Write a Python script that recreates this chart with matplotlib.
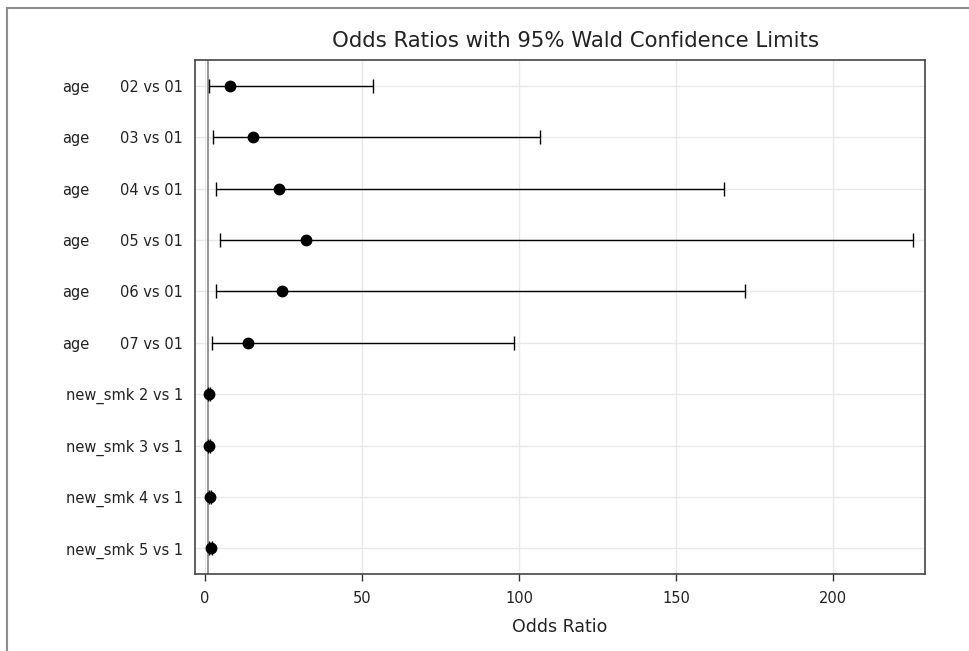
import numpy as np
import matplotlib.pyplot as plt
from matplotlib.patches import Rectangle
import matplotlib.transforms as mtransforms

plt.rcParams['font.family'] = ['DejaVu Sans']

# odds ratio estimates with 95% Wald limits
effects = ["age", "age", "age", "age", "age", "age", "", "", "", ""]
levels = ["02 vs 01", "03 vs 01", "04 vs 01", "05 vs 01", "06 vs 01", "07 vs 01",
          "new_smk 2 vs 1", "new_smk 3 vs 1", "new_smk 4 vs 1", "new_smk 5 vs 1"]
odds = [8.0, 15.4, 23.6, 32.2, 24.6, 13.8, 1.3, 1.3, 1.6, 1.8]
lower = [1.3, 2.6, 3.5, 4.9, 3.5, 2.1, 1.0, 1.0, 1.3, 1.4]
upper = [53.6, 106.8, 165.3, 225.6, 172.1, 98.4, 1.7, 1.7, 2.0, 2.2]

W, H = 969, 651
fig = plt.figure(figsize=(W / 100, H / 100), dpi=100)
ax = fig.add_axes([195 / W, 1 - 574 / H, (925 - 195) / W, (574 - 60) / H])

# outer border of the graph
fig.patches.append(Rectangle((7 / W, -0.1), 1.2, 1 - 8 / H + 0.1, transform=fig.transFigure,
                             fill=False, edgecolor='#8c8c8c', linewidth=1.5))

y = np.arange(len(levels))
odds_a = np.array(odds)
err = [odds_a - np.array(lower), np.array(upper) - odds_a]

ax.axvline(1, color='#8f8f8f', linewidth=1.3, zorder=1)
ax.errorbar(odds, y, xerr=err, fmt='o', color='black', ecolor='black',
            markersize=7.5, elinewidth=1.0, capsize=5, capthick=1.0, zorder=3)

ax.set_xlim(-3.2, 229.3)
ax.set_ylim(len(levels) - 0.5, -0.5)
ax.set_xticks([0, 50, 100, 150, 200])
ax.set_yticks(y)
ax.set_yticklabels(levels)
ax.tick_params(axis='y', length=0, pad=8.5, labelsize=10.5, colors='#222222')
ax.tick_params(axis='x', length=5, width=1, color='#333333', labelsize=10.5,
               labelcolor='#222222', pad=7)
ax.grid(True, color='#e8e8e8', linewidth=1)
ax.set_axisbelow(True)
for s in ax.spines.values():
    s.set_color('#444444')
    s.set_linewidth(1.2)

# effect names in their own column left of the levels
trans = mtransforms.blended_transform_factory(fig.transFigure, ax.transData)
for yi, eff in zip(y, effects):
    if eff:
        ax.text(62 / W, yi, eff, transform=trans, ha='left', va='center_baseline',
                fontsize=10.5, color='#222222')

ax.set_xlabel("Odds Ratio", fontsize=12.5, color='#222222', labelpad=9)
fig.text(575 / W, 1 - 41 / H, "Odds Ratios with 95% Wald Confidence Limits",
         ha='center', va='center', fontsize=15.3, color='#222222')

fig.savefig("out.png", dpi=100)
